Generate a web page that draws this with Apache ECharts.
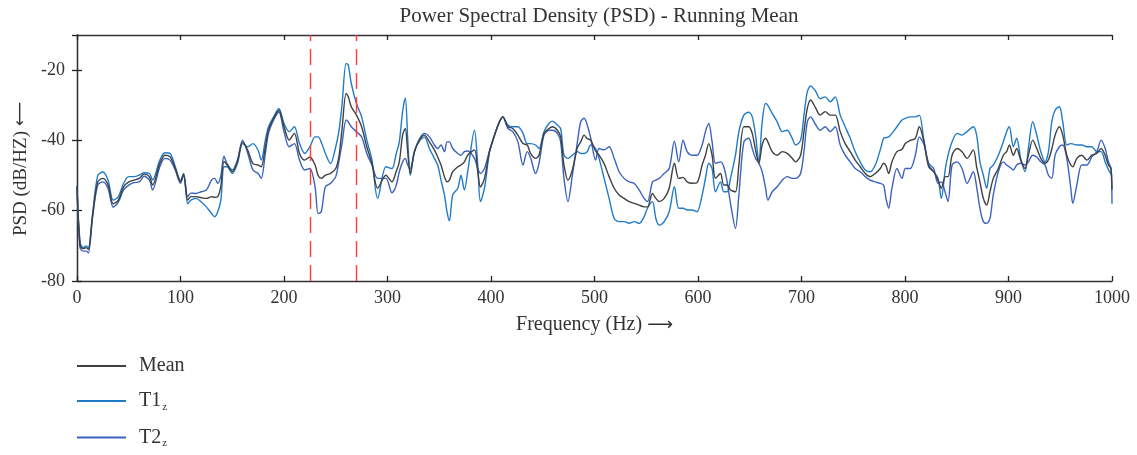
<!DOCTYPE html>
<html>
<head>
<meta charset="utf-8">
<script src="https://cdn.jsdelivr.net/npm/echarts@6/dist/echarts.min.js"></script>
<style>
html,body{margin:0;padding:0;background:#fff;}
#chart{width:1137px;height:455px;}
</style>
</head>
<body>
<div id="chart"></div>
<script>
// Frequency samples (Hz)
const freq = [0,3,6,9,11,15,20,25,30,35,40,45,50,55,60,65,70,73,80,85,90,95,100,103,107,110,115,120,125,130,133,136,139,142,145,150,155,160,165,170,175,178,182,185,190,195,200,205,210,215,220,225,230,233,236,240,245,250,253,256,260,262,265,270,275,280,285,290.5,298.5,304.3,308.2,311.4,314.6,317.2,319.5,322,326,330.8,335.6,340.5,345.3,348.5,351.7,355,357.5,359.8,363,367.9,371,374.3,377.5,384,387.2,389.8,393.7,398.5,403.4,408.2,411.4,416.3,421,426,430.9,435,438.3,443,446.4,451.2,456,459.3,464.1,467.3,470.5,474.4,478.6,483.5,486.7,490,493,496.4,501,504.4,509.3,514.1,519,523.8,528.6,533.5,538.3,543.1,548,551.2,556,559.3,562.5,567.3,572.2,577.2,581.4,585.6,589.5,594.3,599.1,604,607.2,610.4,613.6,616.9,621.7,624.9,628.2,631.4,636.2,639.5,644.3,649.1,652.4,655.6,658.8,662,665.3,667.5,671.7,676.5,681.4,686.2,691,694.3,699.1,702.4,705.6,708.8,713.4,718,722.9,727.7,732.6,737.4,742.2,747.1,751.9,756.7,761.6,766.4,771.3,776.1,779.3,781.6,784.2,787.4,792.2,797.1,800.3,805.1,810,813.8,818,822.9,827.7,831.9,835.1,839,841.6,845.5,850.3,855.1,860,866,869.2,872.4,875.7,878.9,882.1,885.3,890.2,895,898.2,900.8,904.7,907.9,911.8,916,919.2,923.4,927.3,931.2,935.3,938.6,941.8,945,949.2,952.4,956.3,960.2,962.1,966,970.8,975.7,980.5,985.3,989.5,993.4,996.6,999,1000];

const t1 = [-53,-69,-70.5,-70,-70.5,-61,-50,-49,-51.3,-57,-56,-52.2,-50.3,-50.3,-49.9,-49.2,-49.4,-51.3,-45.6,-43.5,-43.7,-47.5,-51.3,-49.4,-58,-57,-56.5,-57.5,-58.9,-60.8,-61.7,-60.3,-57,-47.5,-47.5,-49.4,-46.6,-40.9,-41.8,-40.9,-42.8,-45.6,-39.9,-36.1,-33.3,-30.9,-35.2,-37.5,-36.1,-40.9,-43.7,-41.8,-39,-39,-40.5,-43.7,-46.6,-41.8,-37.5,-30,-18.1,-18.5,-23.8,-29.5,-33.3,-39.9,-45.6,-56.5,-47.5,-48,-44,-40.4,-31.8,-27.9,-39.4,-49.9,-43.2,-40.2,-39,-42.3,-45.1,-47,-51.3,-55.5,-60.3,-62.9,-55.5,-53.6,-49.9,-54.1,-48.9,-37.1,-47,-57.4,-53.6,-43.5,-38.5,-34.7,-33.3,-35.6,-36.1,-36.1,-38,-40.9,-40.9,-41.3,-42.3,-37.5,-35.2,-34.5,-35.6,-36.6,-44.2,-45.1,-44.2,-43.2,-43.7,-43.7,-43.2,-41.3,-42.3,-45.1,-50.8,-56.5,-62.2,-63.1,-63.1,-63.6,-63.1,-63.6,-61.7,-59.3,-57.4,-62.2,-64.1,-63.1,-60.3,-53.2,-59.3,-59.3,-59.8,-59.8,-60.3,-55.5,-50.8,-46.5,-48,-54.6,-51.8,-54.6,-54.6,-50.8,-44.2,-37.5,-32.8,-32,-33.3,-38.5,-46.1,-34.7,-29.5,-30,-32.3,-34.7,-37.5,-37.1,-39.4,-41.3,-40,-32.8,-26.2,-24.5,-25.9,-28.1,-27.6,-29,-27.6,-32.8,-36.1,-39.4,-43.2,-46.1,-48.4,-48.9,-47,-42.7,-39.4,-39.2,-39,-38,-36.1,-34.2,-33.7,-33.3,-33.3,-32.8,-39.4,-47,-48.9,-50.8,-56.5,-48,-44.2,-40.4,-38,-38.5,-37.5,-36.1,-38.5,-46.1,-49.9,-53.6,-48,-47,-44.2,-40.4,-37.5,-36.1,-41.8,-39.4,-45.1,-48.9,-42.3,-34.7,-38.5,-43.2,-46.1,-43.2,-34.7,-31.4,-30.4,-34.7,-41.3,-40.9,-41,-41.3,-41.3,-41.8,-41.8,-43.2,-43.2,-46.1,-48.4,-49.5,-50];

const meanVals = [-53,-70,-70.8,-70.5,-71,-61.5,-51.8,-50.8,-52.7,-58,-57,-53.2,-51.8,-51.3,-50.8,-49.6,-50.3,-52.7,-46.6,-44.2,-44.7,-48,-51.8,-49.6,-57,-56,-56,-56.3,-56.5,-56,-56.2,-56,-53,-46,-47,-48.9,-46,-40.4,-42.8,-46.6,-47,-47.5,-41.8,-37.1,-33.7,-31.4,-36.1,-39.9,-38,-43.7,-45.6,-44.7,-47,-50,-50.8,-49.9,-49.4,-48,-44.7,-37,-26.6,-27.5,-30.4,-32.8,-36.1,-41.8,-46.6,-53.6,-49.9,-51.8,-49,-46.1,-38.5,-36.6,-43.2,-49.4,-43.2,-39.9,-38.5,-40.4,-42.7,-44.7,-47,-50.3,-51.8,-51.3,-48.9,-47.5,-47,-46.1,-44.2,-42.7,-48.9,-53.2,-50.8,-43.2,-38.5,-34.7,-33.3,-36.1,-36.6,-38.5,-40.9,-41.3,-43.7,-45.1,-44.2,-38,-36.6,-36.1,-37.1,-39,-47,-51.3,-48.4,-42,-40.4,-38.5,-39.5,-39.9,-43,-44.2,-46.6,-50.3,-53.6,-55.5,-56.5,-57.4,-57.9,-58.4,-58.9,-58.9,-55.1,-56.5,-57.4,-56.5,-53.6,-46.5,-50.8,-50.5,-51.8,-52.2,-52,-47,-44.2,-40.9,-44.2,-50.8,-49.4,-52.7,-52.7,-54.1,-54.6,-47,-36.1,-36.1,-38,-42.7,-46.5,-41.3,-39.4,-40.4,-43.2,-44.2,-43.2,-43.7,-45.1,-46.1,-44.2,-37.5,-30.9,-28.5,-30.6,-32.8,-31.8,-32.8,-32.8,-37.5,-40.9,-43.2,-45.6,-47.5,-49.4,-50.3,-49.4,-48,-46.5,-47.2,-49.4,-46.1,-43.2,-42.5,-40.9,-40,-39.4,-36.1,-39.9,-47.5,-48.9,-51.3,-53.6,-50.3,-50.3,-44.2,-42.3,-43.2,-45.1,-42.7,-47.5,-51.8,-56.5,-58.4,-54.6,-50.8,-48,-44.2,-43.2,-41.3,-44.2,-42.3,-45.6,-48,-44.2,-39.9,-42.3,-45.1,-46.5,-45.5,-42.5,-38.5,-36.1,-38.5,-44.2,-47,-47.5,-45.1,-44.2,-45.6,-44.2,-43.7,-42.3,-44.2,-47,-48,-54];

const t2 = [-53,-70.5,-71.5,-71.5,-72,-62,-52.7,-51.8,-53.7,-59,-57.5,-54.1,-52.7,-52,-51.8,-50.2,-51.3,-54.1,-47.5,-45.1,-45.6,-48.5,-52.2,-49.9,-56,-55,-55.1,-54.6,-54.1,-51.3,-50.8,-52.2,-50,-44.5,-46.6,-48.4,-45.6,-39.9,-43.7,-48.4,-49.4,-50.8,-43.7,-38,-34.2,-31.9,-37.5,-41.8,-40.9,-45.6,-48.4,-48,-53.2,-60.8,-60.3,-53.2,-52.2,-50.3,-46,-41,-34.2,-34.7,-36.1,-37.5,-39,-43.7,-47,-50.8,-50.8,-54.9,-53,-48.9,-46.1,-45.1,-47,-48,-43.2,-39.6,-38,-39,-41.3,-42.3,-41.3,-43.2,-40.4,-40.4,-42.3,-43.7,-44.2,-43.2,-43,-45.1,-48,-49.4,-48,-43,-38.5,-34.7,-33.3,-36.6,-37.5,-40.4,-47,-43.2,-45,-49.4,-46.5,-38.5,-37.1,-37.1,-38,-40.4,-50.8,-57.4,-49.9,-40.4,-34.7,-33.7,-35.6,-39.4,-45.6,-42.3,-42.7,-41.8,-45.1,-48.9,-50.8,-51.8,-52.2,-54.1,-56.5,-57.4,-51.8,-51.3,-50.8,-49.4,-48,-40.2,-46.1,-39.9,-43.2,-44.2,-44.2,-41.3,-37.5,-35.2,-40.4,-46.5,-46.1,-47.5,-51.8,-57.9,-65,-55.5,-40.4,-39.4,-42.3,-45.1,-46.5,-48.9,-53.6,-57,-54.6,-53.2,-51.3,-50.3,-50.8,-50.8,-49.4,-43.2,-34.7,-33.3,-35.4,-37.1,-36.1,-37.5,-36.1,-41.3,-44.2,-46.1,-48,-48.9,-50.3,-51.3,-51.8,-52.2,-52.7,-56.5,-59.3,-53.6,-48,-50.8,-48,-48,-44.2,-39,-40.9,-46.5,-48,-52.2,-51.8,-55,-57.4,-47,-46.1,-48,-52.2,-48.9,-53.2,-59.3,-63.1,-63.6,-62.2,-55.5,-48.9,-46.1,-47,-47.5,-48.4,-47,-46.5,-47,-46.1,-44.2,-44.7,-46.1,-47,-49.9,-50.8,-44.2,-41.8,-41.3,-45.1,-53.6,-57.9,-52.7,-47,-47,-44.7,-43.2,-39.9,-42.3,-46.1,-48,-58];

const markedFreqs = [225, 270];
const xTicks = [0,100,200,300,400,500,600,700,800,900,1000];
const yTicks = [-80,-60,-40,-20];

const seriesNames = ['Mean', 'T1_z', 'T2_z'];
const seriesColors = ['#404040', '#1f7bc9', '#3a62bf'];

function pairs(vals){ return freq.map((f,i)=>[f, vals[i]]); }

const FONT = 'Liberation Serif';
const ARROWFONT = 'DejaVu Sans';
const chart = echarts.init(document.getElementById('chart'), null, {renderer:'canvas'});

const axisLine = {show:true, lineStyle:{color:'#333', width:1.3}};
const tick = {show:true, inside:true, length:5, lineStyle:{color:'#222', width:1.3}};

const option = {
  backgroundColor:'#fff',
  animation:false,
  title:{
    text:'Power Spectral Density (PSD) - Running Mean',
    left:594, top:1, textAlign:'center',
    textStyle:{fontFamily:FONT, fontSize:21, fontWeight:'normal', color:'#333'}
  },
  grid:{left:77, top:35, width:1035, height:246, containLabel:false},
  legend:{
    orient:'vertical', left:72, top:351, height:110, itemWidth:49, itemHeight:2, itemGap:15,
    icon:'rect',
    data: seriesNames,
    textStyle:{fontFamily:FONT, fontSize:20, color:'#333', padding:[0,0,0,8],
      rich:{
        m:{fontFamily:FONT, fontSize:20, color:'#333'},
        s:{fontFamily:FONT, fontSize:11, color:'#333', padding:[12,0,0,1]}
      }},
    formatter: function(name){
      if (name === 'Mean') return '{m|Mean}';
      const parts = name.split('_');
      return '{m|' + parts[0] + '}{s|' + parts[1] + '}';
    }
  },
  xAxis:[{
    type:'value', min:0, max:1000, interval:100, position:'bottom',
    name:'{t|Frequency (Hz) }{a|\u27F6}', nameLocation:'middle', nameGap:34,
    nameTextStyle:{fontFamily:FONT, fontSize:20, color:'#333',
      rich:{t:{fontFamily:FONT, fontSize:20, color:'#333'}, a:{fontFamily:ARROWFONT, fontSize:18, color:'#333'}}},
    axisLine:axisLine, axisTick:tick, splitLine:{show:false},
    axisLabel:{fontFamily:FONT, fontSize:18, color:'#333', margin:8,
      formatter: v => xTicks.includes(v) ? String(v) : ''}
  },{
    type:'value', min:0, max:1000, interval:100, position:'top',
    axisLine:axisLine, axisTick:tick, splitLine:{show:false}, axisLabel:{show:false}
  }],
  yAxis:[{
    type:'value', min:-80, max:-10, interval:20, position:'left',
    name:'{t|PSD (dB/HZ) }{a|\u27F5}', nameLocation:'middle', nameGap:46, nameRotate:90,
    nameTextStyle:{fontFamily:FONT, fontSize:19, color:'#333',
      rich:{t:{fontFamily:FONT, fontSize:19, color:'#333'}, a:{fontFamily:ARROWFONT, fontSize:17, color:'#333', padding:[0,22,0,0]}}},
    axisLine:axisLine, axisTick:tick, splitLine:{show:false},
    axisLabel:{fontFamily:FONT, fontSize:18, color:'#333', margin:12, showMaxLabel:false,
      formatter: v => yTicks.includes(v) ? String(v) : ''}
  },{
    type:'value', min:-80, max:-10, interval:20, position:'right',
    axisLine:axisLine, axisTick:tick, splitLine:{show:false}, axisLabel:{show:false}
  }],
  series:[
    {name:seriesNames[1], type:'line', data:pairs(t1), showSymbol:false, symbol:'none', smooth:0.3,
      lineStyle:{color:seriesColors[1], width:1.4}, itemStyle:{color:seriesColors[1]}, z:2},
    {name:seriesNames[2], type:'line', data:pairs(t2), showSymbol:false, symbol:'none', smooth:0.3,
      lineStyle:{color:seriesColors[2], width:1.4}, itemStyle:{color:seriesColors[2]}, z:2},
    {name:seriesNames[0], type:'line', data:pairs(meanVals), showSymbol:false, symbol:'none', smooth:0.3,
      lineStyle:{color:seriesColors[0], width:1.4}, itemStyle:{color:seriesColors[0]}, z:3,
      markLine:{silent:true, symbol:'none', label:{show:false},
        lineStyle:{color:'#ff3b3b', width:1.4, type:[16,8]},
        data: markedFreqs.map(f=>({xAxis:f}))}}
  ]
};
chart.setOption(option);
</script>
</body>
</html>
